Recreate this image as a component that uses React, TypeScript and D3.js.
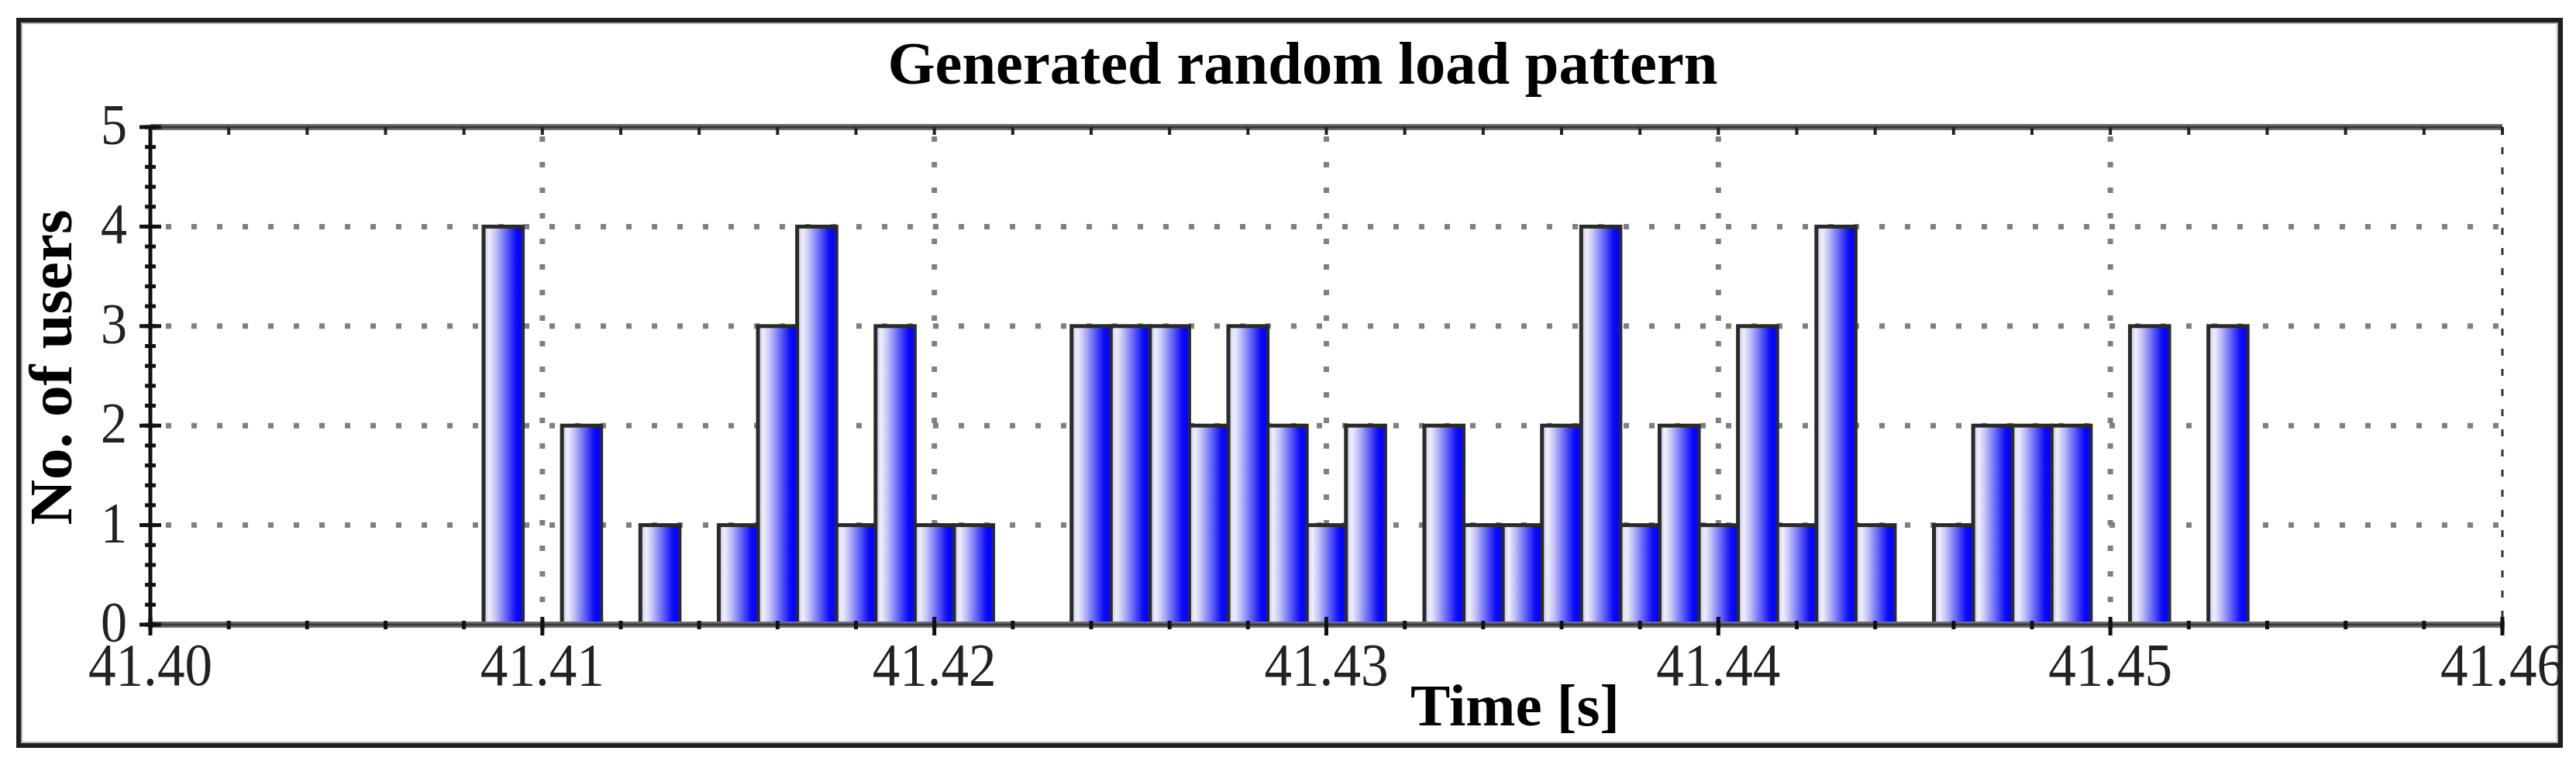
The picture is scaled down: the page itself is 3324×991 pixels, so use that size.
import React from "react";
import * as d3 from "d3";

// ---- data ----
const binTimes = [
  41.409, 41.411, 41.413, 41.415, 41.416, 41.417, 41.418, 41.419, 41.42, 41.421,
  41.424, 41.425, 41.426, 41.427, 41.428, 41.429, 41.43, 41.431,
  41.433, 41.434, 41.435, 41.436, 41.437, 41.438, 41.439, 41.44, 41.441, 41.442, 41.443, 41.444,
  41.446, 41.447, 41.448, 41.449,
  41.451, 41.453,
];
const users = [
  4, 2, 1, 1, 3, 4, 1, 3, 1, 1,
  3, 3, 3, 2, 3, 2, 1, 2,
  2, 1, 1, 2, 4, 1, 2, 1, 3, 1, 4, 1,
  1, 2, 2, 2,
  3, 3,
];
const binWidth = 0.001;
const xTickValues = [41.4, 41.41, 41.42, 41.43, 41.44, 41.45, 41.46];
const xTickLabels = ["41.40", "41.41", "41.42", "41.43", "41.44", "41.45", "41.46"];
const yTickValues = [0, 1, 2, 3, 4, 5];
const title = "Generated random load pattern";
const xTitle = "Time [s]";
const yTitle = "No. of users";

// ---- layout ----
const W = 3324;
const H = 991;
const plot = { left: 194, right: 3229, top: 164, bottom: 806 };
const frame = { left: 24, top: 26, right: 3304, bottom: 962 };
const serif = "'Liberation Serif', 'Times New Roman', serif";

export default function App() {
  const x = d3.scaleLinear().domain([41.4, 41.46]).range([plot.left, plot.right]);
  const y = d3.scaleLinear().domain([0, 5]).range([plot.bottom, plot.top]);
  const xMinor = d3.range(0, 31).map((i) => 41.4 + i * 0.002);
  const yMinor = d3.range(0, 26).map((i) => i * 0.2);

  const bars = binTimes.map((t, i) => ({ t, v: users[i] }));

  return (
    <svg
      width={W}
      height={H}
      viewBox={`0 0 ${W} ${H}`}
      style={{ position: "absolute", left: 0, top: 0, display: "block", background: "#fff" }}
    >
      <defs>
        <linearGradient id="barGrad" x1="0" y1="0" x2="1" y2="0">
          <stop offset="0%" stopColor="#b8b8ee" />
          <stop offset="14%" stopColor="#f0f0ff" />
          <stop offset="30%" stopColor="#c4c4ff" />
          <stop offset="60%" stopColor="#5a5aff" />
          <stop offset="82%" stopColor="#0c0cff" />
          <stop offset="100%" stopColor="#0000e6" />
        </linearGradient>
      </defs>

      {/* outer frame */}
      <rect
        x={frame.left}
        y={frame.top}
        width={frame.right - frame.left}
        height={frame.bottom - frame.top}
        fill="#fff"
        stroke="#1e1e1e"
        strokeWidth={6}
      />
      <rect
        x={frame.left + 4}
        y={frame.top + 4}
        width={frame.right - frame.left - 8}
        height={frame.bottom - frame.top - 8}
        fill="none"
        stroke="#b0b0b0"
        strokeWidth={2}
      />

      {/* grid */}
      <g stroke="#808080" strokeWidth={7} strokeDasharray="7 26" fill="none">
        {xTickValues.slice(1, -1).map((v) => (
          <line key={"gx" + v} x1={x(v)} x2={x(v)} y1={plot.top + 12} y2={plot.bottom} />
        ))}
        {yTickValues.slice(1, -1).map((v) => (
          <line key={"gy" + v} x1={plot.left + 20} x2={plot.right} y1={y(v)} y2={y(v)} />
        ))}
      </g>

      {/* bars */}
      <g>
        {bars.map((b) => {
          const x0 = x(b.t - binWidth / 2);
          const x1 = x(b.t + binWidth / 2);
          return (
            <rect
              key={b.t}
              x={x0}
              y={y(b.v)}
              width={x1 - x0}
              height={y(0) - y(b.v)}
              fill="url(#barGrad)"
              stroke="#2a2a2a"
              strokeWidth={5}
            />
          );
        })}
      </g>

      {/* right axis (dotted) */}
      <line x1={plot.right} x2={plot.right} y1={plot.top} y2={plot.bottom} stroke="#333" strokeWidth={3} strokeDasharray="9 17" />

      {/* top border */}
      <line x1={plot.left} x2={plot.right} y1={plot.top} y2={plot.top} stroke="#6e6e6e" strokeWidth={8} />
      <line x1={plot.left} x2={plot.right} y1={plot.top} y2={plot.top} stroke="#3a3a3a" strokeWidth={3} />
      <g stroke="#222" strokeWidth={4}>
        {xMinor.map((v) => (
          <line key={"tt" + v} x1={x(v)} x2={x(v)} y1={plot.top} y2={plot.top + 10} />
        ))}
      </g>

      {/* bottom axis */}
      <line x1={plot.left} x2={plot.right} y1={plot.bottom} y2={plot.bottom} stroke="#6e6e6e" strokeWidth={8} />
      <line x1={plot.left} x2={plot.right} y1={plot.bottom} y2={plot.bottom} stroke="#3a3a3a" strokeWidth={3} />
      <g stroke="#111" strokeWidth={5}>
        {xMinor.map((v) => (
          <line key={"bt" + v} x1={x(v)} x2={x(v)} y1={plot.bottom - 5} y2={plot.bottom + 6} />
        ))}
        {xTickValues.map((v) => (
          <line key={"bM" + v} x1={x(v)} x2={x(v)} y1={plot.bottom - 10} y2={plot.bottom + 14} />
        ))}
      </g>

      {/* left axis */}
      <line x1={plot.left} x2={plot.left} y1={plot.top} y2={plot.bottom} stroke="#111" strokeWidth={5} />
      <g stroke="#111" strokeWidth={5}>
        {yMinor.map((v) => (
          <line key={"lm" + v} x1={plot.left - 7} x2={plot.left + 7} y1={y(v)} y2={y(v)} />
        ))}
        {yTickValues.map((v) => (
          <line key={"lM" + v} x1={plot.left - 14} x2={plot.left + 14} y1={y(v)} y2={y(v)} />
        ))}
      </g>

      {/* y tick labels */}
      <g fontFamily={serif} fontSize={74} fill="#222" textAnchor="end">
        {yTickValues.map((v) => (
          <text key={"yl" + v} x={plot.left - 30} y={y(v) + 22} textLength={34} lengthAdjust="spacingAndGlyphs">
            {v}
          </text>
        ))}
      </g>

      {/* x tick labels */}
      <g fontFamily={serif} fontSize={78} fill="#222" textAnchor="middle">
        {xTickValues.map((v, i) => (
          <text key={"xl" + v} x={x(v)} y={884} textLength={160} lengthAdjust="spacingAndGlyphs">
            {xTickLabels[i]}
          </text>
        ))}
      </g>

      {/* titles */}
      <text
        x={1681}
        y={108}
        textAnchor="middle"
        fontFamily={serif}
        fontWeight="bold"
        fontSize={78}
        fill="#000"
        textLength={1071}
        lengthAdjust="spacingAndGlyphs"
      >
        {title}
      </text>
      <text
        x={1955}
        y={936}
        textAnchor="middle"
        fontFamily={serif}
        fontWeight="bold"
        fontSize={76}
        fill="#000"
        textLength={270}
        lengthAdjust="spacingAndGlyphs"
      >
        {xTitle}
      </text>
      <text
        transform={`translate(92, 474) rotate(-90)`}
        textAnchor="middle"
        fontFamily={serif}
        fontWeight="bold"
        fontSize={78}
        fill="#000"
        textLength={407}
        lengthAdjust="spacingAndGlyphs"
      >
        {yTitle}
      </text>
    </svg>
  );
}
